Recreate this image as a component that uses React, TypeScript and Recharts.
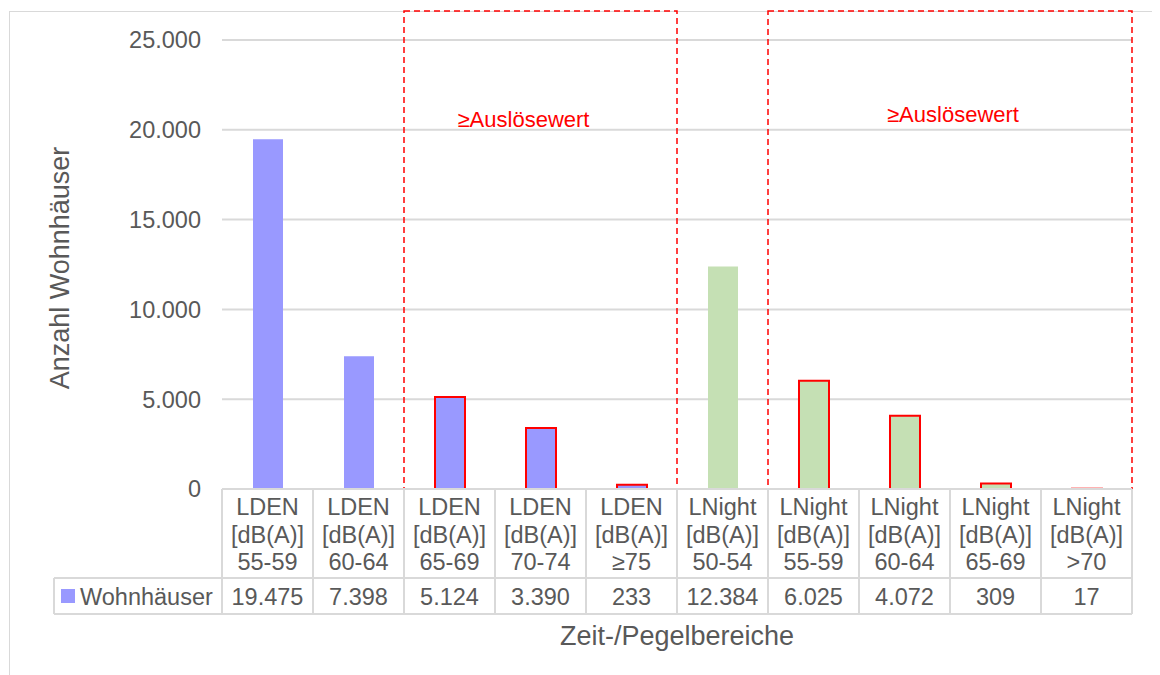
import React from 'react'
import { BarChart, Bar, Cell, XAxis, YAxis, CartesianGrid, ReferenceArea } from 'recharts'

const metrics = ['LDEN', 'LDEN', 'LDEN', 'LDEN', 'LDEN', 'LNight', 'LNight', 'LNight', 'LNight', 'LNight']
const ranges = ['55-59', '60-64', '65-69', '70-74', '≥75', '50-54', '55-59', '60-64', '65-69', '>70']
const wohnhaeuser = [19475, 7398, 5124, 3390, 233, 12384, 6025, 4072, 309, 17]
const overThreshold = [false, false, true, true, true, false, true, true, true, true]
const yTicks = [0, 5000, 10000, 15000, 20000, 25000]

const data = metrics.map((m, i) => ({ key: m + ' ' + ranges[i], metric: m, range: ranges[i], value: wohnhaeuser[i] }))

const FONT = '"Liberation Sans", Arial, sans-serif'
const GREY = '#595959'
const LINE = '#d9d9d9'
const RED = '#ff0000'

// chart geometry (svg coords)
const W = 1152
const H = 667
const PLOT_L = 214
const PLOT_R = 1124
const PLOT_T = 32
const PLOT_B = 481
const BAND = (PLOT_R - PLOT_L) / data.length
const ROW1_B = 570
const ROW2_B = 606
const LABEL_L = 46

const fmt = (v: number) => String(v).replace(/\B(?=(\d{3})+(?!\d))/g, '.')

function TableTick(props: any) {
  const { x, payload } = props
  const i = payload.index
  const d = data[i]
  const l = x - BAND / 2
  const r = x + BAND / 2
  return (
    <g fontFamily={FONT} fontSize={23.5} fill={GREY}>
      <line x1={r} x2={r} y1={PLOT_B} y2={ROW2_B} stroke={LINE} strokeWidth={2} />
      <line x1={l} x2={r} y1={ROW1_B} y2={ROW1_B} stroke={LINE} strokeWidth={2} />
      <line x1={l} x2={r} y1={ROW2_B} y2={ROW2_B} stroke={LINE} strokeWidth={2} />
      {i === 0 && (
        <g>
          <line x1={l} x2={l} y1={PLOT_B} y2={ROW2_B} stroke={LINE} strokeWidth={2} />
          <line x1={LABEL_L} x2={l} y1={ROW1_B} y2={ROW1_B} stroke={LINE} strokeWidth={2} />
          <line x1={LABEL_L} x2={l} y1={ROW2_B} y2={ROW2_B} stroke={LINE} strokeWidth={2} />
          <line x1={LABEL_L} x2={LABEL_L} y1={ROW1_B} y2={ROW2_B} stroke={LINE} strokeWidth={2} />
          <rect x={53} y={581} width={14} height={14} fill="#9999ff" />
          <text x={72} y={597} fill={GREY}>Wohnhäuser</text>
        </g>
      )}
      <text x={x} y={507} textAnchor="middle" fill={GREY}>{d.metric}</text>
      <text x={x} y={535} textAnchor="middle" fill={GREY}>[dB(A)]</text>
      <text x={x} y={562} textAnchor="middle" fill={GREY}>{d.range}</text>
      <text x={x} y={597} textAnchor="middle" fill={GREY}>{fmt(d.value)}</text>
    </g>
  )
}

const areaLabel = (dx: number, dy: number) => (props: any) => {
  const vb = props.viewBox
  return (
    <text x={vb.x + vb.width / 2 + dx} y={dy} textAnchor="middle" fill={RED}
      fontFamily={FONT} fontSize={22}>
      ≥Auslösewert
    </text>
  )
}

export default function App() {
  return (
    <div style={{ position: 'relative', width: W, height: H }}>
      <div style={{ position: 'absolute', left: 1, top: 3, width: W - 1, height: H - 3, borderTop: '1px solid ' + LINE, borderLeft: '1px solid ' + LINE, boxSizing: 'border-box' }} />
      <BarChart width={W} height={H} data={data}
        margin={{ top: PLOT_T, right: W - PLOT_R, bottom: H - PLOT_B - 40, left: 0 }}
        style={{ position: 'absolute', left: 0, top: 0 }}>
        <CartesianGrid vertical={false} stroke={LINE} strokeWidth={2} />
        <XAxis dataKey="key" height={40} interval={0} tickLine={false} axisLine={{ stroke: LINE, strokeWidth: 2 }} tick={TableTick} />
        <YAxis width={PLOT_L} domain={[0, 25000]} ticks={yTicks} tickFormatter={fmt} axisLine={false} tickLine={false}
          tickMargin={15} tick={{ fill: GREY, fontSize: 23.5, fontFamily: FONT }} />
        <ReferenceArea x1="LDEN 65-69" x2="LDEN ≥75" y1={-6960} y2={26614} ifOverflow="visible"
          fill="none" stroke={RED} strokeWidth={1.5} strokeDasharray="6 4" label={areaLabel(-17, 119)} />
        <ReferenceArea x1="LNight 55-59" x2="LNight >70" y1={-6960} y2={26614} ifOverflow="visible"
          fill="none" stroke={RED} strokeWidth={1.5} strokeDasharray="6 4" label={areaLabel(3, 114)} />
        <Bar dataKey="value" barSize={30} isAnimationActive={false}>
          {data.map((d, i) => (
            <Cell key={d.key} fill={d.metric === 'LDEN' ? '#9999ff' : '#c5e0b4'}
              stroke={overThreshold[i] ? RED : 'none'} strokeWidth={2} />
          ))}
        </Bar>
        <text x={52} y={260} textAnchor="middle" dominantBaseline="central" transform="rotate(-90 52 260)"
          fill={GREY} fontSize={27} fontFamily={FONT}>Anzahl Wohnhäuser</text>
        <text x={669} y={637} textAnchor="middle" fill={GREY} fontSize={27} fontFamily={FONT}>Zeit-/Pegelbereiche</text>
      </BarChart>
    </div>
  )
}
